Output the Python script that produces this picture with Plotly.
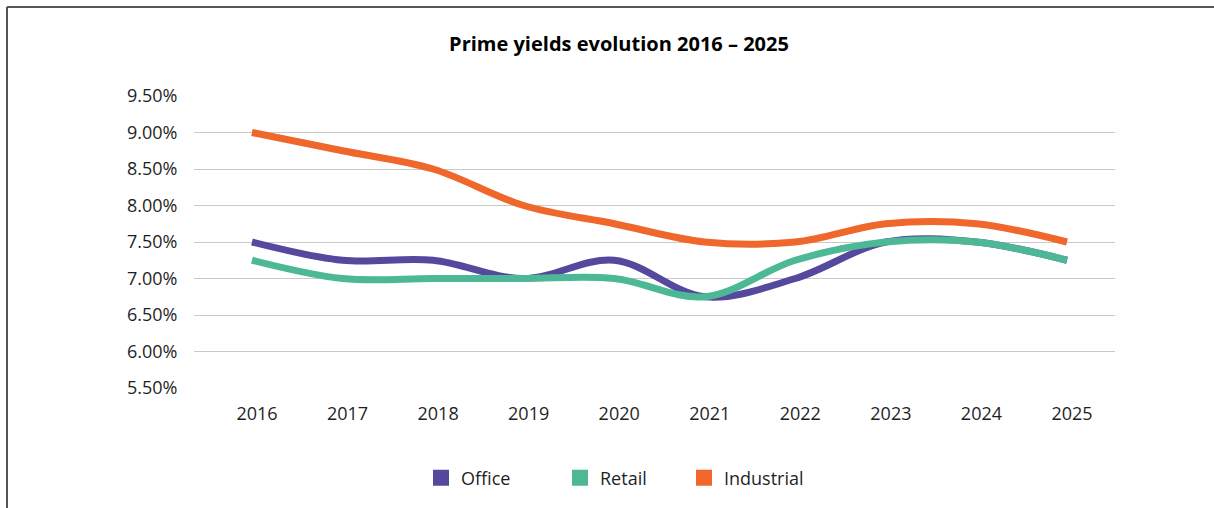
import plotly.graph_objects as go

# Prime yields (%) by segment
years = [2016, 2017, 2018, 2019, 2020, 2021, 2022, 2023, 2024, 2025]
office = [7.50, 7.25, 7.25, 7.00, 7.25, 6.75, 7.00, 7.50, 7.50, 7.25]
retail = [7.25, 7.00, 7.00, 7.00, 7.00, 6.75, 7.25, 7.50, 7.50, 7.25]
industrial = [9.00, 8.75, 8.50, 8.00, 7.75, 7.50, 7.50, 7.75, 7.75, 7.50]
y_ticks = [5.5, 6.0, 6.5, 7.0, 7.5, 8.0, 8.5, 9.0, 9.5]

series = [
    ("Office", office, "#55499e"),
    ("Retail", retail, "#4db895"),
    ("Industrial", industrial, "#f0672b"),
]

FONT = "Open Sans, Noto Sans, sans-serif"
TEXT = "#1f1f1f"

# plot area geometry (pixels)
W, H = 1214, 508
L, R, T, B = 194, 1115, 96, 388
pw, ph = R - L, B - T

def px_to_paper_x(px):
    return (px - L) / pw

def px_to_paper_y(py):
    return (B - py) / ph

fig = go.Figure()
for name, vals, color in series:
    fig.add_trace(go.Scatter(
        x=years, y=vals, mode="lines", name=name,
        line=dict(color=color, width=7, shape="spline", smoothing=1.0),
        showlegend=False, hoverinfo="x+y+name",
    ))

# one small legend per series so each key sits at its own spot
legend_keys = ["legend", "legend2", "legend3"]
key_centres = [441, 580, 704]
legend_layout = {}
for (name, vals, color), key, cx in zip(series, legend_keys, key_centres):
    fig.add_trace(go.Scatter(
        x=[None], y=[None], mode="markers", name=name,
        marker=dict(symbol="square", size=18, color=color),
        showlegend=True, legend=key,
    ))
    legend_layout[key] = dict(
        orientation="h", x=px_to_paper_x(cx - 20), xanchor="left",
        y=px_to_paper_y(478), yanchor="middle",
        font=dict(size=18, color=TEXT), itemwidth=30,
        bgcolor="rgba(0,0,0,0)",
    )

# outer frame of the chart card
frame = dict(color="#555555", width=2)
fig.add_shape(type="line", xref="paper", yref="paper",
              x0=px_to_paper_x(7), x1=px_to_paper_x(W + 10),
              y0=px_to_paper_y(7), y1=px_to_paper_y(7), line=frame)
fig.add_shape(type="line", xref="paper", yref="paper",
              x0=px_to_paper_x(7), x1=px_to_paper_x(7),
              y0=px_to_paper_y(7), y1=px_to_paper_y(H + 10), line=frame)

fig.update_layout(
    width=W, height=H,
    margin=dict(l=L, r=W - R, t=T, b=H - B, pad=0),
    paper_bgcolor="white", plot_bgcolor="white",
    font=dict(family=FONT, size=18, color=TEXT),
    title=dict(
        text="<b>Prime yields evolution 2016 – 2025</b>",
        x=619 / W, xanchor="center", xref="container",
        y=1 - 44 / H, yanchor="middle", yref="container",
        font=dict(family=FONT, size=20, color="#000000"),
    ),
    xaxis=dict(
        range=[2016 - 0.64, 2025 + 0.53],
        tickvals=years, ticktext=[str(y) for y in years],
        showgrid=False, zeroline=False, showline=False,
        ticks="outside", ticklen=9, tickcolor="rgba(0,0,0,0)",
        ticklabelshift=5,
        tickfont=dict(size=18, color=TEXT),
        fixedrange=True,
    ),
    yaxis=dict(
        range=[5.5, 9.5],
        tickvals=y_ticks, ticktext=[f"{v:.2f}%" for v in y_ticks],
        showgrid=True, gridcolor="#c9c9c9", gridwidth=1,
        zeroline=False, showline=False,
        ticks="outside", ticklen=12, tickcolor="rgba(0,0,0,0)",
        tickfont=dict(size=18, color=TEXT),
        fixedrange=True,
    ),
    showlegend=True,
    **legend_layout,
)

fig.write_html("out.html")
